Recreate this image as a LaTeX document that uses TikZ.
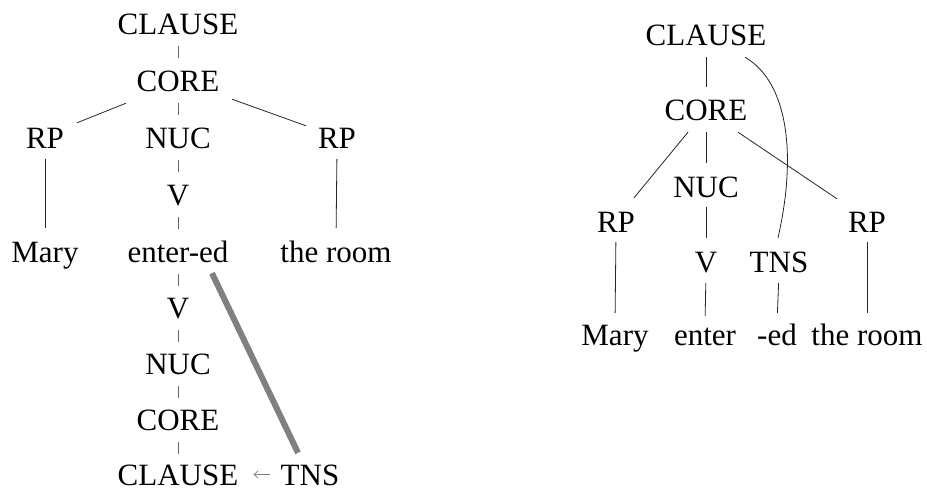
\documentclass[tikz,border=0pt]{standalone}
\usepackage{fontspec}
\setmainfont{Liberation Serif}
\usetikzlibrary{calc,arrows.meta}
\begin{document}
\begin{tikzpicture}[x=1pt,y=-1pt,
  lbl/.style={inner sep=0pt, anchor=base, text height=21pt, text depth=0pt,
              font=\fontsize{31}{36}\selectfont},
  link/.style={line width=0.8pt, black!85},
  dlink/.style={line width=0.8pt, black!60, dash pattern=on 12pt off 24pt, dash phase=24pt},
  movebar/.style={line width=6pt, gray},
  ptr/.style={-{Straight Barb[length=4pt, width=7pt]}, line width=0.7pt, gray}
]
\useasboundingbox (0,0) rectangle (927,490);

% ---------- left tree: constituent and operator projection ----------
\node[lbl] (lcl)   at (178,34)  {CLAUSE};
\node[lbl] (lcore) at (178,91)  {CORE};
\node[lbl] (lrp1)  at (45,148)  {RP};
\node[lbl] (lnuc)  at (178,148) {NUC};
\node[lbl] (lrp2)  at (337,148) {RP};
\node[lbl] (lv)    at (178,205) {V};
\node[lbl] (lmary) at (45,262)  {Mary};
\node[lbl] (lent)  at (178,262) {enter-ed};
\node[lbl] (lroom) at (336,262) {the room};
\node[lbl] (lv2)   at (178,318) {V};
\node[lbl] (lnuc2) at (178,374) {NUC};
\node[lbl] (lcore2) at (178,430) {CORE};
\node[lbl] (lcl2)  at (178,485) {CLAUSE};
\node[lbl] (ltns)  at (310,485) {TNS};

\draw[dlink] (lcl.south) -- (lcore.north);
\draw[dlink] (lcore.south) -- (lnuc.north);
\draw[dlink] (lnuc.south) -- (lv.north);
\draw[dlink] (lv.south) -- (lent.north);
\draw[dlink] (lent.south) -- (lv2.north);
\draw[dlink] (lv2.south) -- (lnuc2.north);
\draw[dlink] (lnuc2.south) -- (lcore2.north);
\draw[dlink] (lcore2.south) -- (lcl2.north);

\draw[link] ($(lcore.south)+(-52,12)$) -- ($(lrp1.north)+(32,-4)$);
\draw[link] ($(lcore.south)+(54,8)$) -- ($(lrp2.north)+(-31,-1)$);
\draw[link, shorten <=11pt, shorten >=13pt] (lrp1.south) -- (lmary.north);
\draw[link, shorten <=11pt, shorten >=13pt] (lrp2.south) -- (lroom.north);

\draw[movebar] ($(lent.south)+(34,11)$) -- ($(ltns.north)+(-12,-11)$);
\draw[ptr, shorten <=11pt, shorten >=15pt] (ltns.west) -- (lcl2.east);

% ---------- right tree: single structure with tense operator ----------
\node[lbl] (rcl)   at (706,45)  {CLAUSE};
\node[lbl] (rcore) at (706,120) {CORE};
\node[lbl] (rnuc)  at (706,197) {NUC};
\node[lbl] (rrp1)  at (616,232) {RP};
\node[lbl] (rrp2)  at (867,232) {RP};
\node[lbl] (rv)    at (706,272) {V};
\node[lbl] (rtns)  at (779,272) {TNS};
\node[lbl] (rmary) at (615,345) {Mary};
\node[lbl] (renter) at (705,345) {enter};
\node[lbl] (red)   at (777,345) {-ed};
\node[lbl] (rroom) at (867,345) {the room};

\draw[link, shorten <=12pt, shorten >=12pt] (rcl.south) -- (rcore.north);
\draw[link, shorten <=12pt, shorten >=13pt] (rcore.south) -- (rnuc.north);
\draw[link, shorten <=10pt, shorten >=13pt] (rnuc.south) -- (rv.north);
\draw[link, shorten <=11pt, shorten >=8pt] (rv.south) -- (renter.north);
\draw[link, shorten <=11pt, shorten >=11pt] (rtns.south) -- (red.north);
\draw[link, shorten <=10pt, shorten >=11pt] (rrp1.south) -- (rmary.north);
\draw[link, shorten <=10pt, shorten >=11pt] (rrp2.south) -- (rroom.north);
\draw[link] ($(rcore.south)+(-18,12)$) -- ($(rrp1.north)+(18,-13)$);
\draw[link] ($(rcore.south)+(32,12)$) -- ($(rrp2.north)+(-30,-12)$);
\draw[link] ($(rcl.south)+(39,12)$) .. controls +(43,25) and +(19,-83) .. ($(rtns.north)+(-1,-13)$);
\end{tikzpicture}
\end{document}
